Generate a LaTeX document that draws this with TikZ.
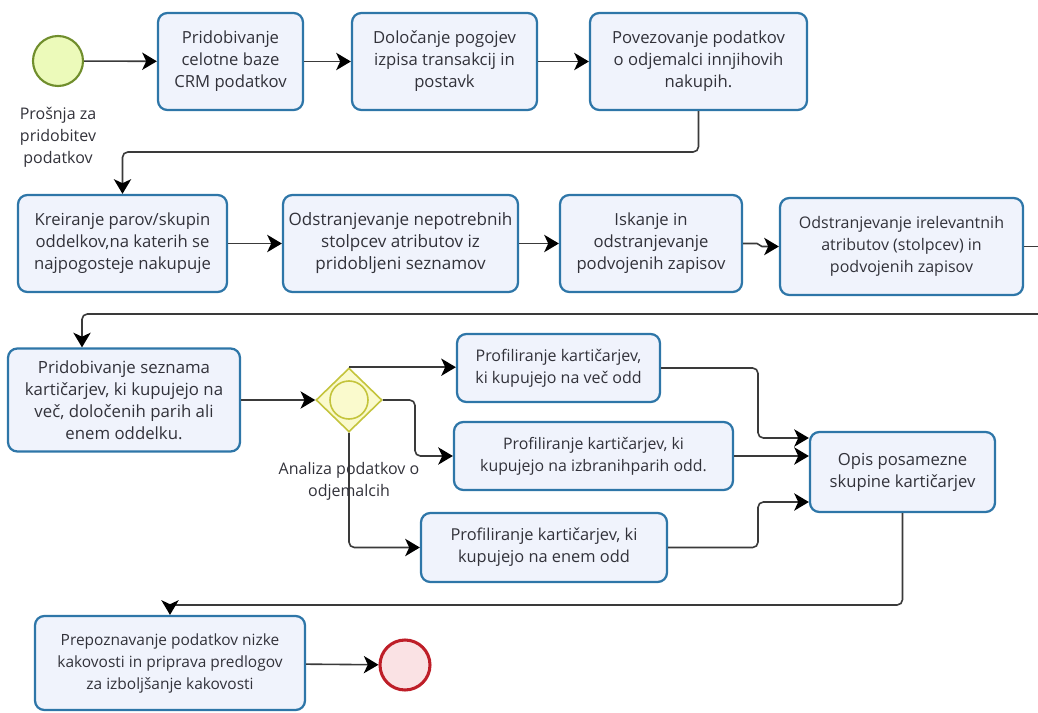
\documentclass[tikz,border=0pt]{standalone}
\usepackage{fontspec}
\setmainfont{Open Sans}
\usetikzlibrary{shapes.geometric,arrows.meta,calc}

% one drawing unit = one pixel of the layout grid
\newdimen\pxu \pxu=0.75pt

\definecolor{taskline}{RGB}{46,118,168}
\definecolor{taskfill}{RGB}{240,243,252}
\definecolor{flowline}{RGB}{58,58,58}
\definecolor{txt}{RGB}{50,50,58}
\definecolor{startline}{RGB}{112,142,44}
\definecolor{startfill}{RGB}{236,250,186}
\definecolor{endline}{RGB}{190,30,40}
\definecolor{endfill}{RGB}{250,226,228}
\definecolor{gwline}{RGB}{196,196,60}
\definecolor{gwfill}{RGB}{250,250,205}

\newcommand\fs[1]{\fontsize{#1}{16.5}\selectfont}

\tikzset{
  task/.style={draw=taskline, line width=1.7pt, fill=taskfill, rounded corners=7pt,
    align=center, text=txt, inner sep=2pt, font=\fs{12.5}},
  lbl/.style={align=center, text=txt, inner sep=1pt, font=\fs{12}},
  conn/.style={draw=flowline, line width=1.2pt},
  elbow/.style={rounded corners=4pt},
  tipflow/.tip={Stealth[length=11pt,width=13pt,inset=3pt,color=black]},
  flow/.style={conn, -tipflow},
  startev/.style={circle, draw=startline, fill=startfill, line width=1.6pt,
    minimum size=50\pxu, inner sep=0pt},
  endevent/.style={circle, draw=endline, fill=endfill, line width=2.3pt,
    minimum size=50\pxu, inner sep=0pt},
  gateway/.style={diamond, draw=gwline, fill=gwfill, line width=1.2pt,
    minimum width=66\pxu, minimum height=64\pxu, inner sep=0pt},
}

\begin{document}
\begin{tikzpicture}[x=0.75pt, y=-0.75pt]
\useasboundingbox (0,0) rectangle (1038,713);

% ---- row 1
\node[startev] (start) at (58,61) {};
\node[lbl] (startlbl) at (58,137) {Prošnja za\\pridobitev\\podatkov};
\node[task, minimum width=145\pxu, minimum height=97\pxu] (b1) at (230.5,61.5)
  {Pridobivanje\\celotne baze\\CRM podatkov};
\node[task, minimum width=185\pxu, minimum height=97\pxu] (b2) at (444.5,61.5)
  {Določanje pogojev\\izpisa transakcij in\\postavk};
\node[task, minimum width=217\pxu, minimum height=97\pxu] (b3) at (698.5,61.5)
  {Povezovanje podatkov\\o odjemalci innjihovih\\nakupih.};

% ---- row 2
\node[task, minimum width=209\pxu, minimum height=97\pxu] (b4) at (122.5,243.5)
  {Kreiranje parov/skupin\\oddelkov,na katerih se\\najpogosteje nakupuje};
\node[task, minimum width=235\pxu, minimum height=97\pxu, font=\fs{12.8}] (b5) at (400.5,243.5)
  {Odstranjevanje nepotrebnih\\stolpcev atributov iz\\pridobljeni seznamov};
\node[task, minimum width=182\pxu, minimum height=97\pxu] (b6) at (651,243.5)
  {Iskanje in\\odstranjevanje\\podvojenih zapisov};
\node[task, minimum width=243\pxu, minimum height=97\pxu, font=\fs{12}] (b7) at (901.5,246.5)
  {Odstranjevanje irelevantnih\\atributov (stolpcev) in\\podvojenih zapisov};

% ---- row 3
\node[task, minimum width=232\pxu, minimum height=103\pxu, font=\fs{12.6}] (b8) at (124,400)
  {Pridobivanje seznama\\kartičarjev, ki kupujejo na\\več, določenih parih ali\\enem oddelku.};
\node[gateway] (gw) at (349,400) {};
\draw[gwline, line width=1.2pt] (gw.center) circle[radius=19\pxu];
\node[task, minimum width=203\pxu, minimum height=68\pxu, font=\fs{12}] (b9) at (558.5,368)
  {Profiliranje kartičarjev,\\ki kupujejo na več odd};
\node[task, minimum width=279\pxu, minimum height=68\pxu, font=\fs{11.9}] (b10) at (593.5,456)
  {Profiliranje kartičarjev, ki\\kupujejo na izbranihparih odd.};
\node[task, minimum width=246\pxu, minimum height=69\pxu, font=\fs{12.3}] (b11) at (544,547.5)
  {Profiliranje kartičarjev, ki\\kupujejo na enem odd};
\node[task, minimum width=185\pxu, minimum height=80\pxu] (b12) at (902.5,472)
  {Opis posamezne\\skupine kartičarjev};

% ---- row 4
\node[task, minimum width=270\pxu, minimum height=94\pxu, font=\fs{11.6}] (b13) at (170,663)
  {Prepoznavanje podatkov nizke\\kakovosti in priprava predlogov\\za izboljšanje kakovosti};
\node[endevent] (endev) at (405,665) {};

% ---- sequence flows
\draw[flow] (start) -- (b1);
\draw[flow] (b1) -- (b2);
\draw[flow] (b2) -- (b3);
\coordinate (t1) at (698.5,152);
\draw[flow, elbow] (b3.south) -- (t1) -| (b4.north);
\draw[flow] (b4) -- (b5);
\draw[flow] (b5) -- (b6);
\coordinate (jog) at (757,243.5);
\draw[flow] (b6.east) -- (jog) -- ++(5,3) -- (b7.west);
\coordinate (exitA) at (1038,246.5);
\draw[conn] (b7.east) -- (exitA);
\coordinate (entB) at (1038,314);
\coordinate (t3) at (82,314);
\draw[flow, elbow] (entB) -- (t3) -- (t3 |- b8.north);
\draw[flow] (b8.east) -- (gw.west);
\draw[flow] (gw.north) -- (gw.north -| b9.west);
\coordinate (k1) at (415,400);
\draw[flow, elbow] (gw.east) -- (k1) |- (b10.west);
\draw[flow, elbow] (gw.south) |- (b11.west);
\coordinate (j1) at (758,438);
\draw[flow, elbow] (b9.east) -| (j1) -- (j1 -| b12.west);
\draw[flow] (b10.east) -- (b10.east -| b12.west);
\coordinate (j2) at (758,502);
\draw[flow, elbow] (b11.east) -| (j2) -- (j2 -| b12.west);
\coordinate (t4) at (170,605);
\draw[flow, elbow] (b12.south) |- (t4) -- (b13.north);
\draw[flow] (b13) -- (endev);

\node[lbl] (gwlbl) at (349,481) {Analiza podatkov o\\odjemalcih};
\end{tikzpicture}
\end{document}
